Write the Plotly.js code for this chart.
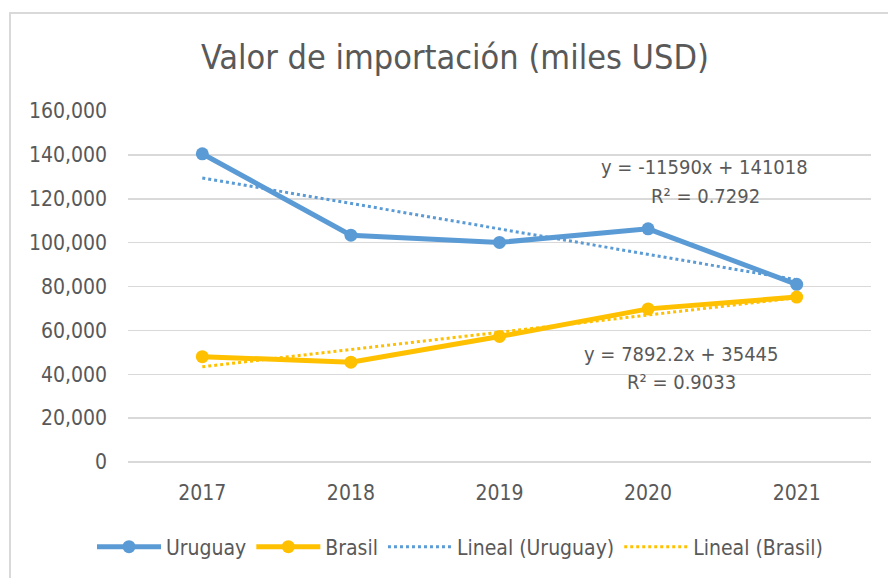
<!DOCTYPE html>
<html>
<head>
<meta charset="utf-8">
<script src="https://cdn.plot.ly/plotly-3.0.1.min.js"></script>
<style>
html,body{margin:0;padding:0;background:#fff;}
#wrap{position:relative;width:888px;height:578px;overflow:hidden;}
#chart{width:888px;height:578px;}
#frame{position:absolute;left:9px;top:12px;width:900px;height:600px;border-left:2px solid #d9d9d9;border-top:2px solid #d9d9d9;pointer-events:none;}
</style>
</head>
<body>
<div id="wrap"><div id="chart"></div><div id="frame"></div></div>
<script>
const categories = ["2017", "2018", "2019", "2020", "2021"];
const uruguay = [140500, 103400, 100100, 106300, 81000];
const brasil = [48000, 45500, 57200, 69800, 75200];
const yTicks = [0, 20000, 40000, 60000, 80000, 100000, 120000, 140000, 160000];

function linfit(vals){
  const n = vals.length;
  const xs = vals.map((v,i)=>i+1);
  const mx = xs.reduce((a,b)=>a+b,0)/n;
  const my = vals.reduce((a,b)=>a+b,0)/n;
  let sxy=0, sxx=0;
  for(let i=0;i<n;i++){sxy+=(xs[i]-mx)*(vals[i]-my); sxx+=(xs[i]-mx)**2;}
  const m = sxy/sxx, b = my - m*mx;
  return xs.map(x=>m*x+b);
}

const FONT = '"Liberation Sans Narrow", "Arial Narrow", "DejaVu Sans Condensed", Lato, sans-serif';
const TXT = '#595959';
const BLUE = '#5B9BD5', GOLD = '#FFC000';

const traces = [
  {x: categories, y: uruguay, name: 'Uruguay', type: 'scatter', mode: 'lines+markers',
   line: {color: BLUE, width: 5}, marker: {color: BLUE, size: 13}},
  {x: categories, y: brasil, name: 'Brasil', type: 'scatter', mode: 'lines+markers',
   line: {color: GOLD, width: 5}, marker: {color: GOLD, size: 13}},
  {x: categories, y: linfit(uruguay), name: 'Lineal (Uruguay)', type: 'scatter', mode: 'lines',
   line: {color: BLUE, width: 3, dash: 'dot'}},
  {x: categories, y: linfit(brasil), name: 'Lineal (Brasil)', type: 'scatter', mode: 'lines',
   line: {color: GOLD, width: 3, dash: 'dot'}}
];

const annFont = {family: FONT, size: 20, color: TXT};
const layout = {
  width: 888, height: 578,
  margin: {l: 128, r: 17, t: 111, b: 116},
  paper_bgcolor: '#ffffff', plot_bgcolor: '#ffffff',
  font: {family: FONT, color: TXT, size: 21},
  title: {text: 'Valor de importación (miles USD)', font: {family: FONT, size: 34, color: TXT},
          x: 455/888, xanchor: 'center', xref: 'container', y: 1 - 57/578, yanchor: 'middle', yref: 'container'},
  xaxis: {type: 'category', range: [-0.5, 4.5], showgrid: false, zeroline: false,
          showline: false, ticks: '', ticklabelstandoff: 16,
          tickfont: {family: FONT, size: 21, color: TXT}, fixedrange: true},
  yaxis: {range: [0, 160000], tickvals: yTicks, tickformat: ',d', showgrid: true,
          gridcolor: '#d9d9d9', gridwidth: 1.5, zeroline: true, zerolinecolor: '#d9d9d9', zerolinewidth: 1.5,
          showline: false, ticks: '', ticklabelstandoff: 20,
          tickfont: {family: FONT, size: 21, color: TXT}, fixedrange: true},
  showlegend: true,
  legend: {orientation: 'h', xref: 'container', x: 460/888, xanchor: 'center',
           yref: 'container', y: 1 - 547/578, yanchor: 'middle',
           font: {family: FONT, size: 21, color: TXT}, itemwidth: 64, traceorder: 'normal'},
  annotations: [
    {xref: 'paper', yref: 'paper', x: (704-128)/743, y: (462-167)/351, xanchor: 'center', yanchor: 'middle',
     text: 'y = -11590x + 141018', showarrow: false, font: annFont},
    {xref: 'paper', yref: 'paper', x: (705-128)/743, y: (462-196)/351, xanchor: 'center', yanchor: 'middle',
     text: 'R² = 0.7292', showarrow: false, font: annFont},
    {xref: 'paper', yref: 'paper', x: (681-128)/743, y: (462-354)/351, xanchor: 'center', yanchor: 'middle',
     text: 'y = 7892.2x + 35445', showarrow: false, font: annFont},
    {xref: 'paper', yref: 'paper', x: (681-128)/743, y: (462-382)/351, xanchor: 'center', yanchor: 'middle',
     text: 'R² = 0.9033', showarrow: false, font: annFont}
  ]
};

Plotly.newPlot('chart', traces, layout, {displayModeBar: false, staticPlot: true});
</script>
</body>
</html>
